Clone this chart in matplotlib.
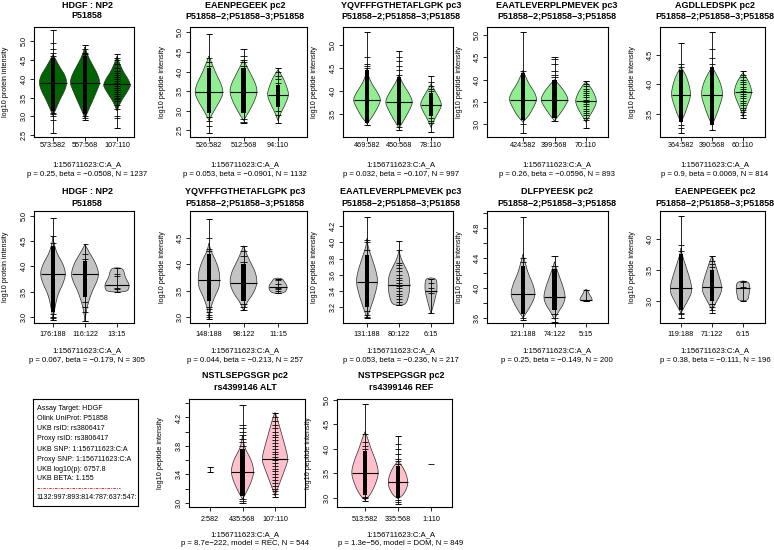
import numpy as np
import matplotlib
matplotlib.use("Agg")
import matplotlib.pyplot as plt
from matplotlib.patches import Polygon

plt.rcParams["font.family"] = ["Liberation Sans", "DejaVu Sans"]

# ---------------------------------------------------------------------
# Values (one entry per panel, row-major)
# ---------------------------------------------------------------------
ISO = "P51858\u22122;P51858\u22123;P51858"
TITLES = [
    ("HDGF : NP2", "P51858"), ("EAENPEGEEK pc2", ISO),
    ("YQVFFFGTHETAFLGPK pc3", ISO), ("EAATLEVERPLPMEVEK pc3", ISO),
    ("AGDLLEDSPK pc2", ISO),
    ("HDGF : NP2", "P51858"), ("YQVFFFGTHETAFLGPK pc3", ISO),
    ("EAATLEVERPLPMEVEK pc3", ISO), ("DLFPYEESK pc2", ISO),
    ("EAENPEGEEK pc2", ISO),
    ("NSTLSEPGSGR pc2", "rs4399146 ALT"), ("NSTPSEPGSGR pc2", "rs4399146 REF"),
]
GROUPS = [
    ["573:582", "557:568", "107:110"], ["526:582", "512:568", "94:110"],
    ["469:582", "450:568", "78:110"], ["424:582", "399:568", "70:110"],
    ["364:582", "390:568", "60:110"],
    ["176:188", "116:122", "13:15"], ["148:188", "98:122", "11:15"],
    ["131:188", "80:122", "6:15"], ["121:188", "74:122", "5:15"],
    ["119:188", "71:122", "6:15"],
    ["2:582", "435:568", "107:110"], ["513:582", "335:568", "1:110"],
]
YLABELS = ["log10 protein intensity"] + ["log10 peptide intensity"] * 4 + \
          ["log10 protein intensity"] + ["log10 peptide intensity"] * 6
YTICKS = [
    [2.5, 3.0, 3.5, 4.0, 4.5, 5.0], [2.5, 3.0, 3.5, 4.0, 4.5, 5.0],
    [3.5, 4.0, 4.5, 5.0], [3.0, 3.5, 4.0, 4.5, 5.0], [3.5, 4.0, 4.5],
    [3.0, 3.5, 4.0, 4.5, 5.0], [3.0, 3.5, 4.0, 4.5],
    [3.2, 3.4, 3.6, 3.8, 4.0, 4.2], [3.6, 3.8, 4.0, 4.2, 4.4, 4.6, 4.8, 5.0],
    [3.0, 3.5, 4.0],
    [3.0, 3.2, 3.4, 3.6, 3.8, 4.0, 4.2, 4.4], [3.0, 3.5, 4.0, 4.5, 5.0],
]
YTICK_LABELS = [
    ["2.5", "3.0", "3.5", "4.0", "4.5", "5.0"], ["2.5", "3.0", "3.5", "4.0", "4.5", "5.0"],
    ["3.5", "4.0", "4.5", "5.0"], ["3.0", "3.5", "4.0", "4.5", "5.0"], ["3.5", "4.0", "4.5"],
    ["3.0", "3.5", "4.0", "4.5", "5.0"], ["3.0", "3.5", "4.0", "4.5"],
    ["3.2", "3.4", "3.6", "3.8", "4.0", "4.2"], ["3.6", "", "4.0", "", "4.4", "", "4.8", ""],
    ["3.0", "3.5", "4.0"],
    ["3.0", "", "3.4", "", "3.8", "", "4.2", ""], ["3.0", "3.5", "4.0", "4.5", "5.0"],
]
YLIMS = [
    (2.45, 5.38), (2.33, 5.14), (2.99, 5.40), (2.72, 5.17), (3.10, 4.98),
    (2.88, 5.09), (2.89, 5.01), (3.00, 4.39), (3.53, 5.03), (2.64, 4.45),
    (2.94, 4.46), (2.81, 5.02),
]
MEDIANS = [
    [3.90, 3.90, 3.85], [3.47, 3.48, 3.40], [3.80, 3.76, 3.70], [3.55, 3.55, 3.52],
    [3.82, 3.82, 3.87], [3.85, 3.85, 3.63], [3.70, 3.65, 3.57], [3.51, 3.47, 3.40],
    [3.92, 3.88, 3.84], [3.20, 3.22, 3.20], [None, 3.43, 3.62], [3.50, 3.33, None],
]
WHISKERS = [
    [(2.55, 5.30), (2.90, 4.90), (2.70, 4.65)], [(2.42, 4.95), (2.68, 4.57), (2.68, 4.08)],
    [(3.26, 5.30), (3.15, 4.87), (3.10, 4.33)], [(2.80, 5.05), (3.08, 4.50), (2.93, 3.97)],
    [(3.17, 4.70), (3.22, 4.90), (3.43, 4.22)], [(2.93, 4.95), (2.92, 4.43), (3.50, 3.97)],
    [(2.97, 4.85), (3.13, 4.35), (3.45, 3.73)], [(3.06, 4.31), (3.22, 4.02), (3.12, 3.55)],
    [(3.57, 4.95), (3.55, 4.43), (3.83, 3.97)], [(2.72, 4.37), (2.80, 3.72), (3.00, 3.32)],
    [(3.43, 3.50), (3.00, 4.38), (3.08, 4.27)], [(2.93, 4.92), (2.88, 4.27), None],
]
# violin outline: (value, half width in px) from bottom to top
VIOLINS = [
    [[(3.02, 0), (3.2, 3), (3.45, 7), (3.7, 12), (3.9, 14), (4.1, 12), (4.3, 7), (4.5, 3), (4.65, 0)],
     [(2.95, 0), (3.2, 4), (3.5, 9), (3.75, 13), (3.9, 15), (4.1, 13), (4.35, 8), (4.6, 3), (4.85, 0)],
     [(3.15, 0), (3.4, 4), (3.6, 9), (3.78, 13), (3.85, 13.5), (4.0, 11), (4.2, 6), (4.45, 2), (4.6, 0)]],
    [[(2.75, 0), (3.0, 5), (3.25, 11), (3.47, 14.5), (3.7, 12), (3.95, 7), (4.2, 3), (4.4, 0)],
     [(2.75, 0), (3.0, 6), (3.25, 11), (3.48, 14), (3.7, 12), (3.95, 7), (4.15, 3), (4.3, 0)],
     [(2.75, 0), (2.95, 3), (3.15, 7), (3.4, 11), (3.6, 9), (3.85, 5), (4.05, 0)]],
    [[(3.28, 0), (3.45, 6), (3.65, 11), (3.8, 14), (3.95, 11), (4.15, 5), (4.35, 1), (4.5, 0)],
     [(3.18, 0), (3.4, 6), (3.6, 11), (3.76, 14), (3.95, 10), (4.15, 4), (4.35, 0)],
     [(3.2, 0), (3.4, 4), (3.55, 8), (3.7, 11), (3.85, 8), (4.0, 4), (4.15, 0)]],
    [[(3.05, 0), (3.2, 6), (3.4, 11), (3.55, 14), (3.7, 12), (3.9, 6), (4.1, 2), (4.2, 0)],
     [(3.08, 0), (3.25, 6), (3.42, 11), (3.55, 14), (3.7, 11), (3.85, 6), (4.0, 0)],
     [(3.05, 0), (3.2, 4), (3.35, 8), (3.52, 11), (3.7, 8), (3.85, 4), (3.95, 0)]],
    [[(3.35, 0), (3.5, 4), (3.65, 7), (3.82, 10), (4.0, 8), (4.15, 5), (4.3, 0)],
     [(3.3, 0), (3.5, 5), (3.65, 8), (3.82, 11), (4.0, 9), (4.15, 5), (4.3, 0)],
     [(3.45, 0), (3.6, 3), (3.75, 7), (3.87, 9), (4.0, 7), (4.1, 4), (4.2, 0)]],
    [[(2.93, 0), (3.2, 2), (3.45, 5), (3.65, 10), (3.85, 13), (4.05, 10), (4.25, 4), (4.45, 1), (4.6, 0)],
     [(2.92, 0), (3.2, 2), (3.5, 7), (3.7, 12), (3.85, 14), (4.05, 11), (4.25, 5), (4.43, 0)],
     [(3.49, 0), (3.5, 9), (3.55, 12), (3.65, 12), (3.72, 10), (3.8, 8), (3.9, 7), (3.96, 5), (3.97, 0)]],
    [[(2.97, 0), (3.2, 2), (3.4, 6), (3.55, 10), (3.7, 11), (3.9, 10), (4.1, 6), (4.25, 2), (4.4, 0)],
     [(3.13, 0), (3.3, 4), (3.45, 10), (3.65, 14), (3.85, 12), (4.0, 8), (4.2, 3), (4.35, 0)],
     [(3.45, 0), (3.46, 6), (3.52, 9), (3.6, 9), (3.68, 6), (3.73, 4), (3.74, 0)]],
    [[(3.06, 0), (3.2, 4), (3.35, 8), (3.51, 11), (3.65, 9), (3.8, 5), (3.95, 1), (4.05, 0)],
     [(3.22, 0), (3.23, 7), (3.35, 10), (3.47, 11), (3.6, 10), (3.7, 6), (3.8, 2), (3.9, 0)],
     [(3.12, 0), (3.2, 2), (3.3, 4), (3.4, 6), (3.5, 6), (3.55, 5), (3.56, 0)]],
    [[(3.6, 0), (3.7, 5), (3.82, 10), (3.92, 12.5), (4.05, 10), (4.2, 5), (4.35, 2), (4.45, 0)],
     [(3.58, 0), (3.68, 4), (3.78, 9), (3.88, 11), (4.0, 9), (4.15, 5), (4.3, 1), (4.35, 0)],
     [(3.82, 0), (3.83, 6), (3.86, 6), (3.92, 3), (3.97, 1.5), (3.98, 0)]],
    [[(2.8, 0), (2.95, 5), (3.1, 10), (3.2, 11), (3.35, 9), (3.55, 5), (3.75, 1), (3.85, 0)],
     [(2.85, 0), (3.0, 5), (3.12, 9), (3.22, 10), (3.35, 8), (3.5, 5), (3.65, 2), (3.72, 0)],
     [(3.0, 0), (3.01, 5), (3.1, 6), (3.2, 7), (3.3, 6), (3.32, 0)]],
    [None,
     [(3.05, 0), (3.15, 4), (3.3, 9), (3.43, 11.5), (3.55, 10), (3.65, 7), (3.75, 3), (3.85, 1), (3.95, 0)],
     [(3.1, 0), (3.25, 4), (3.4, 8), (3.55, 12), (3.62, 13), (3.75, 11), (3.9, 8), (4.05, 5), (4.2, 2), (4.27, 0)]],
    [[(2.95, 0), (3.05, 5), (3.25, 10), (3.5, 14), (3.75, 11), (4.0, 6), (4.2, 3), (4.35, 0)],
     [(2.98, 0), (3.05, 5), (3.2, 9), (3.33, 10), (3.5, 8), (3.65, 4), (3.75, 0)],
     None],
]
# solid stacks of overlapping tick marks
BANDS = [
    [(3.15, 4.55), (3.05, 4.6), None], [(2.95, 4.1), (2.95, 4.1), (3.1, 3.65)],
    [(3.3, 4.45), (3.25, 4.3), (3.45, 3.95)], [(3.1, 4.15), (3.15, 4.0), None],
    [(3.35, 4.25), (3.3, 4.3), None], [(3.1, 4.4), (3.4, 4.1), None],
    [(3.3, 4.2), (3.3, 4.0), None], [(3.2, 3.85), None, None],
    [(3.65, 4.3), (3.7, 4.25), None], [(2.85, 3.75), (3.0, 3.5), None],
    [None, (3.1, 3.75), None], [(3.05, 3.95), (3.0, 3.65), None],
]
POINTS = [
    [[2.55, 2.9, 3.0, 3.05, 3.1, 4.6, 4.7, 4.8, 4.95, 5.3],
     [2.9, 2.95, 3.0, 4.65, 4.7, 4.8, 4.9],
     [2.7, 2.95, 3.0, 3.2, 3.3, 3.4, 3.45, 3.5, 3.55, 3.6, 3.65, 3.7, 3.75, 3.8, 3.9,
      3.95, 4.0, 4.05, 4.1, 4.15, 4.2, 4.3, 4.4, 4.5, 4.55, 4.65]],
    [[2.42, 2.6, 2.75, 2.85, 4.15, 4.25, 4.35, 4.95],
     [2.68, 2.72, 2.8, 4.15, 4.25, 4.3, 4.4, 4.57],
     [2.68, 2.9, 3.0, 3.7, 3.8, 3.9, 4.0, 4.08]],
    [[3.26, 4.5, 4.55, 4.6, 4.75, 5.3],
     [3.15, 3.2, 4.35, 4.45, 4.55, 4.65, 4.75, 4.87],
     [3.1, 3.3, 3.35, 3.4, 4.0, 4.05, 4.1, 4.2, 4.33]],
    [[2.8, 3.0, 4.2, 5.05],
     [3.08, 4.05, 4.1, 4.2, 4.35, 4.45, 4.5],
     [2.93, 3.1, 3.15, 3.2, 3.25, 3.3, 3.35, 3.4, 3.45, 3.5, 3.55, 3.6, 3.65, 3.7,
      3.75, 3.8, 3.85, 3.9, 3.97]],
    [[3.17, 3.25, 3.3, 4.3, 4.35, 4.7],
     [3.22, 4.35, 4.45, 4.6, 4.9],
     [3.43, 3.47, 3.52, 3.56, 3.6, 3.64, 3.68, 3.72, 3.76, 3.8, 3.84, 3.88, 3.92, 3.96,
      4.0, 4.04, 4.08, 4.12, 4.16, 4.22]],
    [[2.93, 2.97, 3.0, 3.05, 4.45, 4.6, 4.95],
     [2.92, 3.1, 3.2, 3.3, 4.15, 4.25],
     [3.5, 3.55, 3.57, 3.63, 3.8, 3.85, 3.97]],
    [[2.97, 3.0, 3.05, 3.1, 3.15, 3.2, 4.25, 4.3, 4.5, 4.85],
     [3.13, 3.2, 3.25, 4.05, 4.15, 4.25, 4.35],
     [3.45, 3.5, 3.53, 3.55, 3.57, 3.62, 3.7, 3.73]],
    [[3.06, 3.08, 3.1, 3.15, 3.9, 4.0, 4.03, 4.31],
     [3.22, 3.26, 3.3, 3.33, 3.36, 3.4, 3.43, 3.46, 3.5, 3.53, 3.56, 3.6, 3.64, 3.68,
      3.72, 3.75, 3.9, 4.02],
     [3.12, 3.37, 3.4, 3.43, 3.5, 3.55]],
    [[3.57, 3.6, 4.35, 4.4, 4.95],
     [3.55, 3.6, 3.65, 4.3, 4.43],
     [3.83, 3.84, 3.97]],
    [[2.72, 2.78, 2.8, 3.8, 3.9, 4.37],
     [2.8, 2.85, 2.9, 2.95, 3.55, 3.6, 3.65, 3.72],
     [3.0, 3.2, 3.22, 3.3]],
    [[3.43, 3.5],
     [3.0, 3.03, 3.05, 3.8, 3.85, 3.9, 3.95, 4.0, 4.05, 4.1, 4.38],
     [3.08, 3.12, 3.16, 3.2, 3.24, 3.28, 3.32, 3.36, 3.4, 3.44, 3.48, 3.52, 3.56, 3.6,
      3.64, 3.68, 3.72, 3.76, 3.8, 3.84, 3.88, 3.92, 3.96, 4.0, 4.05, 4.1, 4.15, 4.2, 4.27]],
    [[2.93, 3.0, 3.02, 4.0, 4.05, 4.15, 4.3, 4.92],
     [2.88, 2.92, 2.95, 3.7, 3.75, 3.8, 3.9, 4.0, 4.1, 4.27],
     [3.68]],
]
SNP_LABEL = "1:156711623:C:A_A"
STATS = [
    "p = 0.25, beta = \u22120.0508, N = 1237", "p = 0.053, beta = \u22120.0901, N = 1132",
    "p = 0.032, beta = \u22120.107, N = 997", "p = 0.26, beta = \u22120.0596, N = 893",
    "p = 0.9, beta = 0.0069, N = 814", "p = 0.067, beta = \u22120.179, N = 305",
    "p = 0.044, beta = \u22120.213, N = 257", "p = 0.053, beta = \u22120.236, N = 217",
    "p = 0.25, beta = \u22120.149, N = 200", "p = 0.38, beta = \u22120.111, N = 196",
    "p = 8.7e\u2212222, model = REC, N = 544", "p = 1.3e\u221256, model = DOM, N = 849",
]
FILLS = ["#006400"] + ["#90EE90"] * 4 + ["#C4C4C4"] * 5 + ["#FFC0CB"] * 2

INFO_LINES = [
    "Assay Target: HDGF", "Olink UniProt: P51858", "UKB rsID: rs3806417",
    "Proxy rsID: rs3806417", "UKB SNP: 1:156711623:C:A", "Proxy SNP: 1:156711623:C:A",
    "UKB log10(p): 6757.8", "UKB BETA: 1.155",
]
INFO_COUNTS = "1132:997:893:814:787:637:547:"

# ---------------------------------------------------------------------
# Layout (pixels on the 774 x 550 canvas)
# ---------------------------------------------------------------------
W, H = 774, 550
COLS = [(34, 134), (190, 307), (343, 453), (487, 608), (660, 765)]
ROWS = [(27, 137), (211, 323), (399, 507)]
GROUP_PX = [(53, 85, 117), (209, 243, 278), (367, 399, 431), (523, 555, 586), (681, 713, 743)]
# title1, title2, group labels, footer1, footer2 (y px) per row
ROW_TEXT = [(5, 16, 146, 165, 174.5), (191.5, 203, 335, 351, 361), (376, 388, 519.5, 534.5, 543.5)]
PANEL_POS = [(0, 0), (0, 1), (0, 2), (0, 3), (0, 4),
             (1, 0), (1, 1), (1, 2), (1, 3), (1, 4),
             (2, 1), (2, 2)]
BOX_OVERRIDE = {10: (189, 305), 11: (337, 452)}
GX_OVERRIDE = {10: (210, 243, 275), 11: (365, 399, 431)}

fig = plt.figure(figsize=(W / 100, H / 100), dpi=100)


def px_rect(l, t, r, b):
    return [l / W, 1 - b / H, (r - l) / W, (b - t) / H]


def smooth_outline(vy, vw, n_iter=2):
    """Chaikin corner cutting on the half outline; the two tips stay put."""
    pts = np.column_stack([vy, vw])
    for _ in range(n_iter):
        q = 0.75 * pts[:-1] + 0.25 * pts[1:]
        r = 0.25 * pts[:-1] + 0.75 * pts[1:]
        mid = np.empty((2 * len(q), 2))
        mid[0::2], mid[1::2] = q, r
        pts = np.vstack([pts[:1], mid, pts[-1:]])
    return pts[:, 0], pts[:, 1]


def draw_panel(k):
    row, col = PANEL_POS[k]
    l, r = BOX_OVERRIDE.get(k, COLS[col])
    t, b = ROWS[row]
    gx = GX_OVERRIDE.get(k, GROUP_PX[col])
    unit = (gx[2] - gx[0]) / 2.0
    ax = fig.add_axes(px_rect(l, t, r, b))
    ax.set_xlim(1 - (gx[0] - l) / unit, 3 + (r - gx[2]) / unit)
    ax.set_ylim(YLIMS[k])
    tick = 3.3 / unit
    band_w = 2.4 / unit
    cap = 2.5 / unit

    for g in range(3):
        x = g + 1
        prof = VIOLINS[k][g]
        if prof is not None:
            vy = np.array([p[0] for p in prof])
            vw = np.array([p[1] for p in prof]) / unit
            sy, sw = smooth_outline(vy, vw)
            xy = np.column_stack([np.r_[x - sw, (x + sw)[::-1]], np.r_[sy, sy[::-1]]])
            ax.add_patch(Polygon(xy, closed=True, fc=FILLS[k], ec="#2a2a2a", lw=0.5, zorder=2))
        wk = WHISKERS[k][g]
        if wk is not None:
            ax.vlines(x, wk[0], wk[1], color="black", lw=0.6, zorder=3)
            ax.hlines(wk, x - cap, x + cap, color="black", lw=0.6, zorder=3)
        band = BANDS[k][g]
        if band is not None:
            ax.fill_between([x - band_w, x + band_w], band[0], band[1],
                            color="black", lw=0, zorder=4)
        ax.hlines(POINTS[k][g], x - tick, x + tick, color="black", lw=0.6, zorder=4)
        med = MEDIANS[k][g]
        if med is not None and prof is not None:
            hw = np.interp(med, sy, sw)
            ax.hlines(med, x - hw, x + hw, color="black", lw=0.8, zorder=5)

    ty1, ty2, gy, fy1, fy2 = ROW_TEXT[row]
    ax.set_xticks([1, 2, 3])
    ax.set_xticklabels(GROUPS[k], fontsize=5.2)
    ax.set_yticks(YTICKS[k])
    ax.set_yticklabels(YTICK_LABELS[k], fontsize=5.2, rotation=90, va="center")
    ax.tick_params(length=2.8, width=0.6, pad=1.5, colors="black")
    # put the group labels at their row height
    xpad = max(gy - b - 3.9 - 3.7, 0.5) / 1.389
    ax.tick_params(axis="x", pad=xpad)
    for s in ax.spines.values():
        s.set_linewidth(0.8)

    # titles and footers sit over the middle group
    cx = gx[1] + 2
    fig.text(cx / W, 1 - ty1 / H, TITLES[k][0], ha="center", va="center",
             fontsize=6.5, fontweight="bold")
    fig.text(cx / W, 1 - ty2 / H, TITLES[k][1], ha="center", va="center",
             fontsize=6.5, fontweight="bold")
    fig.text(cx / W, 1 - fy1 / H, SNP_LABEL, ha="center", va="center", fontsize=5.6)
    fig.text(cx / W, 1 - fy2 / H, STATS[k], ha="center", va="center", fontsize=5.6)
    fig.text((l - 28) / W, 1 - (t + b) / 2 / H, YLABELS[k], rotation=90,
             ha="center", va="center", fontsize=5.2)


for k in range(len(TITLES)):
    draw_panel(k)

# info box (row 3, first column)
ax = fig.add_axes(px_rect(33, 399, 138, 506))
ax.set_xlim(0, 1)
ax.set_ylim(0, 1)
ax.set_xticks([])
ax.set_yticks([])
for s in ax.spines.values():
    s.set_linewidth(0.8)
line_y = [408.3, 418.5, 428.7, 438.9, 449.1, 459.3, 469.5, 479.0]
for txt, yy in zip(INFO_LINES, line_y):
    ax.text(0.035, (506 - yy) / 107, txt, fontsize=5.1, va="center", ha="left")
ax.plot([0.035, 0.83], [(506 - 488) / 107] * 2, color="red", lw=0.6,
        linestyle=(0, (3, 1.5, 1, 1.5)))
ax.text(0.035, (506 - 497.5) / 107, INFO_COUNTS, fontsize=5.1, va="center", ha="left",
        clip_on=True)

fig.savefig("out.png", dpi=100)
